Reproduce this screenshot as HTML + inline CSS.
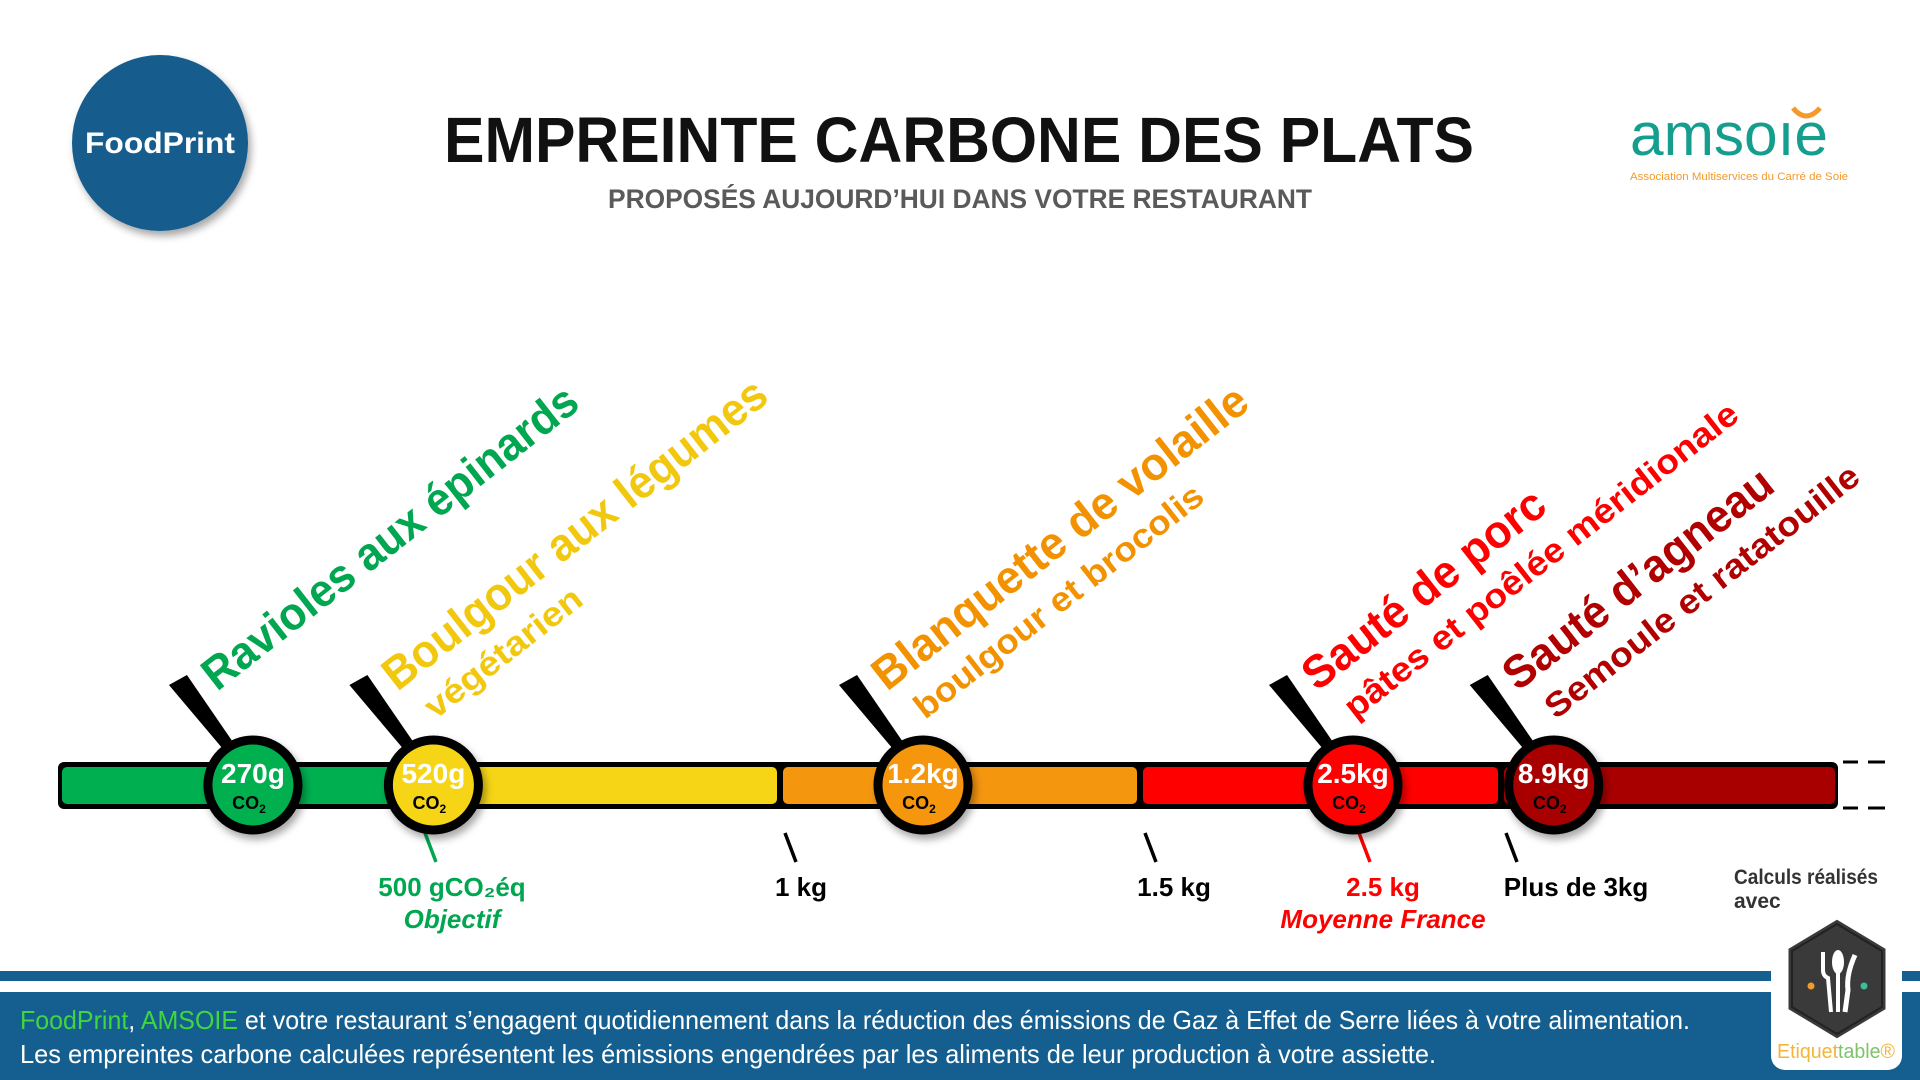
<!DOCTYPE html>
<html><head><meta charset="utf-8"><style>
html,body{margin:0;padding:0;background:#fff;}
svg{display:block;font-family:"Liberation Sans",sans-serif;}
</style></head><body>
<svg id="chart" width="1920" height="1080" viewBox="0 0 1920 1080" xmlns="http://www.w3.org/2000/svg">
<defs>
<filter id="sh" x="-30%" y="-30%" width="160%" height="160%"><feDropShadow dx="3" dy="5" stdDeviation="4" flood-color="#000" flood-opacity="0.35"/></filter>
</defs>
<g>
<circle cx="160" cy="143" r="88" fill="#145b8c" filter="url(#sh)"/>
<text x="160" y="153" text-anchor="middle" font-size="30" font-weight="bold" fill="#fff" textLength="150" lengthAdjust="spacingAndGlyphs">FoodPrint</text>
</g>
<text x="959" y="162" text-anchor="middle" font-size="64" font-weight="bold" fill="#111" textLength="1030" lengthAdjust="spacingAndGlyphs">EMPREINTE CARBONE DES PLATS</text>
<text x="960" y="208" text-anchor="middle" font-size="27" font-weight="bold" fill="#5a5a5a" textLength="704" lengthAdjust="spacingAndGlyphs">PROPOSÉS AUJOURD’HUI DANS VOTRE RESTAURANT</text>
<g>
<text x="1630" y="155" font-size="60" fill="#159d8e" textLength="198" lengthAdjust="spacingAndGlyphs">amsoıe</text>
<path d="M1793 108 Q1806 124 1820 108" stroke="#f39a2b" stroke-width="5" fill="none"/>
<text x="1630" y="180" font-size="11" fill="#f39a2b" textLength="218" lengthAdjust="spacingAndGlyphs">Association Multiservices du Carré de Soie</text>
</g>
<g id="bar-layer"></g>
<g id="tick-layer"></g>
<g id="dish-layer"></g>
<g stroke="#000" stroke-width="3">
<line x1="1843" y1="762" x2="1858" y2="762"/><line x1="1868" y1="762" x2="1885" y2="762"/>
<line x1="1843" y1="808" x2="1858" y2="808"/><line x1="1868" y1="808" x2="1885" y2="808"/>
</g>
<text font-size="21" font-weight="bold" fill="#333"><tspan x="1734" y="884" textLength="144" lengthAdjust="spacingAndGlyphs">Calculs réalisés</tspan><tspan x="1734" y="908">avec</tspan></text>
<rect x="0" y="971" width="1920" height="10" fill="#145f8f"/>
<rect x="0" y="992" width="1920" height="88" fill="#145f8f"/>
<text x="20" y="1029" font-size="26" fill="#fff" textLength="1670" lengthAdjust="spacingAndGlyphs"><tspan fill="#3fd63f">FoodPrint</tspan>, <tspan fill="#3fd63f">AMSOIE</tspan> et votre restaurant s’engagent quotidiennement dans la réduction des émissions de Gaz à Effet de Serre liées à votre alimentation.</text>
<text x="20" y="1063" font-size="26" fill="#fff" textLength="1416" lengthAdjust="spacingAndGlyphs">Les empreintes carbone calculées représentent les émissions engendrées par les aliments de leur production à votre assiette.</text>
<g>
<rect x="1771" y="912" width="131" height="158" rx="14" fill="#fff"/>
<polygon points="1837,918 1887,948 1887,1010 1837,1040 1787,1010 1787,948" fill="#3a3a3a" stroke="#fff" stroke-width="3"/>
<polygon points="1837,924 1882,951 1882,1007 1837,1034 1792,1007 1792,951" fill="none" stroke="#222" stroke-width="2"/>
<path d="M1823 952 L1823 970 Q1823 976 1828 978 L1831 1012" stroke="#fff" stroke-width="4" fill="none"/>
<ellipse cx="1838" cy="962" rx="6" ry="12" fill="#fff"/>
<line x1="1838" y1="972" x2="1838" y2="1012" stroke="#fff" stroke-width="4"/>
<path d="M1855 955 Q1846 975 1848 990 L1845 1012" stroke="#fff" stroke-width="5" fill="none"/>
<circle cx="1811" cy="986" r="3.5" fill="#f39a2b"/><circle cx="1864" cy="986" r="3.5" fill="#3bbf9a"/>
<text x="1777" y="1058" font-size="20" fill="#f2b53a" textLength="118" lengthAdjust="spacingAndGlyphs">Etiquet<tspan fill="#7cc36a">table</tspan>®</text>
</g>
</svg>
<script>
const NS = "http://www.w3.org/2000/svg";
// ---- data ----
const dishNames = ["Ravioles aux épinards", "Boulgour aux légumes", "Blanquette de volaille", "Sauté de porc", "Sauté d’agneau"];
const dishSubs = ["", "végétarien", "boulgour et brocolis", "pâtes et poêlée méridionale", "Semoule et ratatouille"];
const dishValues = [0.27, 0.52, 1.2, 2.5, 8.9];
const dishValueLabels = ["270g", "520g", "1.2kg", "2.5kg", "8.9kg"];
const tickValues = [0.5, 1, 1.5, 2.5, 3];
const tickLabels = ["500 gCO₂éq", "1 kg", "1.5 kg", "2.5 kg", "Plus de 3kg"];
const tickSubLabels = ["Objectif", "", "", "Moyenne France", ""];
const segmentBounds = [0, 0.5, 1, 1.5, 3, 40];
// ---- layout / styles ----
const scaleKnots = [0, 0.5, 1, 1.5, 2.5, 3, 40];
const scalePix = [58, 419, 779, 1139, 1353, 1500, 1837];
const segColors = ["#00b050", "#f5d515", "#f5960f", "#ff0000", "#a80000"];
const textColors = ["#00a650", "#f2c80f", "#f39200", "#ff0000", "#b00000"];
const mainLen = [463, 474, 463, 295, 329];
const subLen = [0, 190, 357, 490, 389];
const tickColors = ["#00a650", "#000", "#000", "#ff0000", "#000"];
const tickLabelDx = [27, 16, 29, 24, 70];
const barY = 762, barH = 47, cy = 785;

function xScale(v) {
  for (let i = 0; i < scaleKnots.length - 1; i++) {
    if (v <= scaleKnots[i + 1]) {
      const t = (v - scaleKnots[i]) / (scaleKnots[i + 1] - scaleKnots[i]);
      return scalePix[i] + t * (scalePix[i + 1] - scalePix[i]);
    }
  }
  return scalePix[scalePix.length - 1];
}
function mk(tag, attrs, parent, txt) {
  const e = document.createElementNS(NS, tag);
  for (const k in attrs) e.setAttribute(k, attrs[k]);
  if (txt !== undefined) e.textContent = txt;
  parent.appendChild(e);
  return e;
}
const barLayer = document.getElementById("bar-layer");
const outline = mk("rect", {x: 58, y: barY, width: 1780, height: barH, rx: 6, fill: "#000"}, barLayer);


for (let i = 0; i < segColors.length; i++) {
  const x0 = xScale(segmentBounds[i]), x1 = xScale(segmentBounds[i + 1]);
  const r = mk("rect", {x: x0 + 4, y: barY + 5, width: x1 - x0 - 6, height: barH - 10, rx: 5, fill: segColors[i]}, barLayer);
  
  
}
const tickLayer = document.getElementById("tick-layer");
tickValues.forEach((v, i) => {
  const x = xScale(v) + 6;
  const g = mk("g", {}, tickLayer);
  
  
  mk("line", {x1: x, y1: 833, x2: x + 11, y2: 862, stroke: tickColors[i], "stroke-width": 3.5}, g);
  mk("text", {x: x + tickLabelDx[i], y: 896, "text-anchor": "middle", "font-size": 26, "font-weight": "bold", fill: tickColors[i]}, g, tickLabels[i]);
  if (tickSubLabels[i]) mk("text", {x: x + tickLabelDx[i], y: 928, "text-anchor": "middle", "font-size": 26, "font-weight": "bold", "font-style": "italic", fill: tickColors[i]}, g, tickSubLabels[i]);
});
const dishLayer = document.getElementById("dish-layer");
dishValues.forEach((v, i) => {
  const cx = xScale(v);
  const g = mk("g", {}, dishLayer);
  
  
  mk("polygon", {points: `${cx - 84},${cy - 100} ${cx - 66},${cy - 110} ${cx - 18},${cy - 40} ${cx - 30},${cy - 36}`, fill: "#000"}, g);
  mk("circle", {cx: cx, cy: cy, r: 45, fill: segColors[Math.min(4, segmentBounds.findIndex(b => b >= v) - 1)], stroke: "#000", "stroke-width": 9, filter: "url(#sh)"}, g);
  mk("text", {x: cx, y: cy - 2, "text-anchor": "middle", "font-size": 28, "font-weight": "bold", fill: "#fff"}, g, dishValueLabels[i]);
  const co = mk("text", {x: cx - 4, y: cy + 24, "text-anchor": "middle", "font-size": 18, "font-weight": "bold", fill: "#000"}, g, "CO");
  mk("tspan", {"font-size": 12, dy: 4}, co, "2");
  const lx = cx - 36, ly = cy - 93;
  const n = mk("text", {x: lx, y: ly, transform: `rotate(-38 ${lx} ${ly})`, "font-size": 46, "font-weight": "bold", fill: textColors[i], textLength: mainLen[i], lengthAdjust: "spacingAndGlyphs"}, g, dishNames[i]);
  
  
  if (dishSubs[i]) {
    const sx = lx + 38, sy = ly + 28;
    const s = mk("text", {x: sx, y: sy, transform: `rotate(-38 ${sx} ${sy})`, "font-size": 34, "font-weight": "bold", fill: textColors[i], textLength: subLen[i], lengthAdjust: "spacingAndGlyphs"}, g, dishSubs[i]);
    
    
  }
});
</script>
</body></html>
